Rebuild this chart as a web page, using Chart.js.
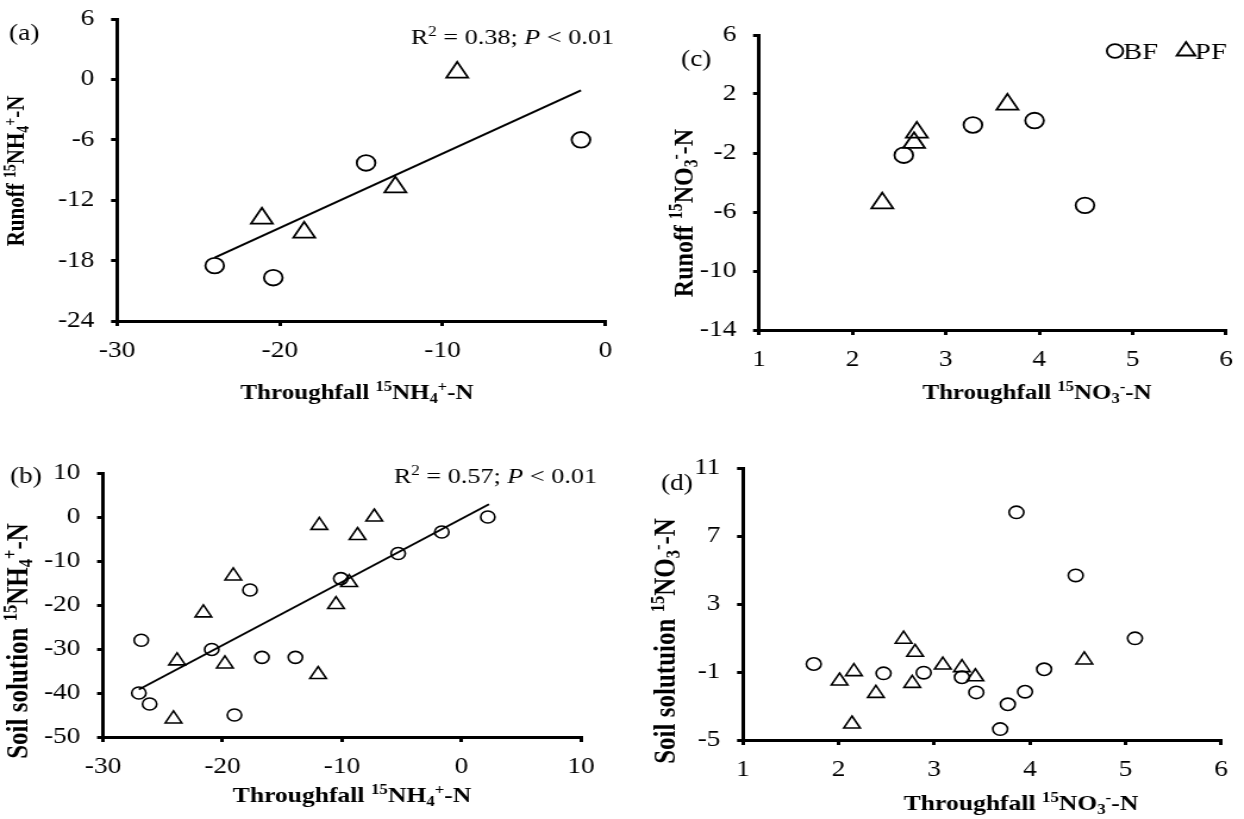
<!DOCTYPE html>
<html><head><meta charset="utf-8">
<script src="https://cdn.jsdelivr.net/npm/chart.js@4.4.1/dist/chart.umd.min.js"></script>
<style>
html,body{margin:0;padding:0;background:#fff;}
#wrap{position:relative;width:1244px;height:819px;overflow:hidden;background:#fff;}
canvas{position:absolute;}
</style></head><body>
<div id="wrap">
<canvas id="pa" style="left:0px;top:0px;"></canvas>
<canvas id="pc" style="left:620px;top:0px;"></canvas>
<canvas id="pb" style="left:0px;top:410px;"></canvas>
<canvas id="pd" style="left:620px;top:410px;"></canvas>
</div>
<script>
// ---------------- DATA ----------------
// Panel (a): Throughfall 15NH4+-N vs Runoff 15NH4+-N
const aBF_x = [-24.0, -20.4, -14.7, -1.5];
const aBF_y = [-18.5, -19.7, -8.3, -6.0];
const aPF_x = [-21.1, -18.5, -12.9, -9.1];
const aPF_y = [-13.8, -15.2, -10.7, 0.7];
const aFit_x = [-24.0, -1.5];
const aFit_y = [-17.7, -1.1];
const aXTicks = [-30, -20, -10, 0];
const aYTicks = [-24, -18, -12, -6, 0, 6];

// Panel (c): Throughfall 15NO3--N vs Runoff 15NO3--N
const cBF_x = [2.55, 3.29, 3.95, 4.49];
const cBF_y = [-2.15, -0.1, 0.2, -5.55];
const cPF_x = [2.32, 2.66, 2.69, 3.66];
const cPF_y = [-5.4, -1.3, -0.6, 1.3];
const cXTicks = [1, 2, 3, 4, 5, 6];
const cYTicks = [-14, -10, -6, -2, 2, 6];

// Panel (b): Throughfall 15NH4+-N vs Soil solution 15NH4+-N
const bBF_x = [2.2, -1.65, -5.3, -10.1, -17.7, -26.8, -20.9, -16.7, -13.9, -27.0, -26.1, -19.0];
const bBF_y = [0, -3.4, -8.3, -14.0, -16.6, -28.0, -30.1, -31.9, -31.9, -40.0, -42.5, -45.0];
const bPF_x = [-7.3, -11.9, -8.7, -19.1, -9.4, -10.5, -21.6, -23.8, -19.8, -12.0, -24.1];
const bPF_y = [0, -1.9, -4.2, -13.4, -14.9, -19.9, -21.8, -32.7, -33.4, -35.8, -45.9];
const bFit_x = [-27.0, 2.3];
const bFit_y = [-39.2, 2.9];
const bXTicks = [-30, -20, -10, 0, 10];
const bYTicks = [-50, -40, -30, -20, -10, 0, 10];

// Panel (d): Throughfall 15NO3--N vs Soil solution 15NO3--N
const dBF_x = [1.74, 2.47, 2.89, 3.29, 3.44, 3.69, 3.77, 3.86, 3.95, 4.15, 4.48, 5.10];
const dBF_y = [-0.53, -1.08, -1.04, -1.31, -2.2, -4.36, -2.9, 8.39, -2.16, -0.84, 4.68, 0.98];
const dPF_x = [2.01, 2.16, 2.14, 2.39, 2.68, 2.80, 2.77, 3.09, 3.29, 3.43, 4.57];
const dPF_y = [-1.53, -0.98, -4.06, -2.26, 0.93, 0.16, -1.67, -0.59, -0.74, -1.28, -0.29];
const dXTicks = [1, 2, 3, 4, 5, 6];
const dYTicks = [-5, -1, 3, 7, 11];

const seriesNames = ['BF', 'PF'];

// ---------------- STYLE / HELPERS ----------------
const FONT = '"Liberation Serif","Times New Roman",serif';
const S = 1.19; // horizontal stretch of the original figure
Chart.defaults.font.family = FONT;
Chart.defaults.color = '#000';

function pts(xs, ys) { return xs.map((x, i) => ({x: x, y: ys[i]})); }

function scatterDS(label, xs, ys, style, r, bw) {
  return {
    label: label, type: 'scatter', data: pts(xs, ys),
    pointStyle: style, pointRadius: r, pointHoverRadius: r,
    pointBorderColor: '#000', pointBackgroundColor: 'rgba(255,255,255,0)',
    pointBorderWidth: bw, showLine: false, order: 1
  };
}
function fitDS(xs, ys) {
  return {
    label: 'fit', type: 'line', data: pts(xs, ys),
    borderColor: '#000', borderWidth: 2, pointRadius: 0, pointHoverRadius: 0,
    fill: false, tension: 0, order: 2
  };
}
function axis(isX, min, max, tickVals, size) {
  return {
    type: 'linear', position: isX ? 'bottom' : 'left', min: min, max: max,
    afterBuildTicks: s => { s.ticks = tickVals.map(v => ({value: v})); },
    afterFit: s => {
      if (isX) s.height = size; else s.width = size;
      s.paddingLeft = 0; s.paddingRight = 0; s.paddingTop = 0; s.paddingBottom = 0;
    },
    grid: {display: true, drawOnChartArea: false, drawTicks: true, tickLength: 5,
           tickWidth: 3, tickColor: '#000', color: '#000', lineWidth: 3},
    border: {display: true, color: '#000', width: 3},
    ticks: {font: {size: 23}, color: '#000', padding: isX ? 11 : 14,
            maxRotation: 0, autoSkip: false, callback: v => String(v)}
  };
}

function segFont(seg, it) {
  const small = seg[1] === 'sup' || seg[1] === 'sub';
  const sz = it.size * (small ? 0.66 : 1);
  return (seg[1] === 'i' ? 'italic ' : '') + (it.bold ? 'bold ' : '') + sz.toFixed(1) + 'px ' + FONT;
}
function drawRich(ctx, it, sx) {
  ctx.save();
  ctx.translate(it.x / sx, it.y);
  if (it.rotate) ctx.rotate(it.rotate);
  let w = 0; const ws = [];
  it.segs.forEach(seg => { ctx.font = segFont(seg, it); const m = ctx.measureText(seg[0]).width; ws.push(m); w += m; });
  let x0 = it.align === 'center' ? -w / 2 : it.align === 'right' ? -w : 0;
  ctx.fillStyle = '#000'; ctx.textBaseline = 'alphabetic'; ctx.textAlign = 'left';
  const base = it.size * 0.33;
  it.segs.forEach((seg, i) => {
    ctx.font = segFont(seg, it);
    const dy = seg[1] === 'sup' ? -it.size * 0.36 : seg[1] === 'sub' ? it.size * 0.17 : 0;
    ctx.fillText(seg[0], x0, base + dy);
    x0 += ws[i];
  });
  ctx.restore();
}
function drawMarker(ctx, style, r, bw, x, y) {
  ctx.save();
  ctx.strokeStyle = '#000'; ctx.fillStyle = 'rgba(255,255,255,0)'; ctx.lineWidth = bw;
  if (Chart.helpers && Chart.helpers.drawPoint) {
    Chart.helpers.drawPoint(ctx, {pointStyle: style, radius: r, borderWidth: bw, rotation: 0}, x, y);
  } else {
    ctx.beginPath();
    if (style === 'circle') ctx.arc(x, y, r, 0, Math.PI * 2);
    else { ctx.moveTo(x, y - r); ctx.lineTo(x + r * 0.866, y + r / 2); ctx.lineTo(x - r * 0.866, y + r / 2); ctx.closePath(); }
    ctx.stroke();
  }
  ctx.restore();
}

const textPlugin = {
  id: 'panelText',
  afterDraw(chart, args, o) {
    const ctx = chart.ctx, sx = o.sx || 1;
    (o.items || []).forEach(it => drawRich(ctx, it, sx));
    if (o.legend) {
      const L = o.legend;
      chart.data.datasets.filter(d => d.type === 'scatter').forEach((d, i) => {
        drawMarker(ctx, d.pointStyle, L.r[i], 1.8, L.x[i] / sx, L.y);
        drawRich(ctx, {segs: [[d.label, '']], x: L.x[i] + L.gap[i], y: L.y, size: L.size, align: 'left'}, sx);
      });
    }
  }
};

function xTitle(nSegs, x, y, size) { return {segs: nSegs, x: x, y: y, size: size || 21, bold: true, align: 'center'}; }
function yTitle(nSegs, x, y, size) { return {segs: nSegs, x: x, y: y, size: size || 21, bold: true, align: 'center', rotate: -Math.PI / 2}; }
function label(t, x, y) { return {segs: [[t, '']], x: x, y: y, size: 23, align: 'left'}; }
function rsq(val, x, y) {
  return {segs: [['R', ''], ['2', 'sup'], [' = ' + val + '; ', ''], ['P', 'i'], [' < 0.01', '']], x: x, y: y, size: 22, align: 'right'};
}
const NH4 = [['15', 'sup'], ['NH', ''], ['4', 'sub'], ['+', 'sup'], ['-N', '']];
const NO3 = [['15', 'sup'], ['NO', ''], ['3', 'sub'], ['-', 'sup'], ['-N', '']];

// area: chart area in page-local px of the panel box {left,right,top,bottom}
function makePanel(id, cssW, cssH, cfg) {
  const cv = document.getElementById(id);
  const W = Math.round(cssW / S);
  cv.width = W; cv.height = cssH;
  cv.style.width = cssW + 'px'; cv.style.height = cssH + 'px';
  const sx = cssW / W;
  const A = cfg.area;
  cfg.text.sx = sx;
  return new Chart(cv, {
    type: 'scatter',
    data: {datasets: cfg.datasets},
    options: {
      responsive: false, animation: false, devicePixelRatio: 1,
      layout: {padding: {left: 0, right: W - A.right / sx, top: A.top, bottom: 0}},
      scales: {
        x: axis(true, cfg.x[0], cfg.x[1], cfg.x[2], cssH - A.bottom),
        y: axis(false, cfg.y[0], cfg.y[1], cfg.y[2], A.left / sx)
      },
      plugins: {legend: {display: false}, tooltip: {enabled: false}, panelText: cfg.text}
    },
    plugins: [textPlugin]
  });
}

// Panel (a)
makePanel('pa', 620, 410, {
  datasets: [
    scatterDS(seriesNames[0], aBF_x, aBF_y, 'circle', 7.8, 1.8),
    scatterDS(seriesNames[1], aPF_x, aPF_y, 'triangle', 10.5, 1.8),
    fitDS(aFit_x, aFit_y)
  ],
  area: {left: 117, right: 615, top: 19, bottom: 321},
  x: [-30, 0, aXTicks], y: [-24, 6, aYTicks],
  text: {items: [
    label('(a)', 9, 32),
    rsq('0.38', 614, 37),
    xTitle([['Throughfall ', '']].concat(NH4), 357, 392),
    yTitle([['Runoff ', '']].concat(NH4), 16, 171)
  ]}
});

// Panel (c)
makePanel('pc', 624, 410, {
  datasets: [
    scatterDS(seriesNames[0], cBF_x, cBF_y, 'circle', 7.8, 1.8),
    scatterDS(seriesNames[1], cPF_x, cPF_y, 'triangle', 10.5, 1.8)
  ],
  area: {left: 139, right: 606, top: 35, bottom: 330},
  x: [1, 6, cXTicks], y: [-14, 6, cYTicks],
  text: {items: [
    label('(c)', 61, 58),
    xTitle([['Throughfall ', '']].concat(NO3), 417, 392),
    yTitle([['Runoff ', '']].concat(NO3), 63, 213, 24)
  ], legend: {x: [495, 566], y: 51, r: [6.8, 9], gap: [8, 9], size: 24}}
});

// Panel (b)
makePanel('pb', 620, 409, {
  datasets: [
    scatterDS(seriesNames[0], bBF_x, bBF_y, 'circle', 6, 1.6),
    scatterDS(seriesNames[1], bPF_x, bPF_y, 'triangle', 8, 1.6),
    fitDS(bFit_x, bFit_y)
  ],
  area: {left: 103, right: 581, top: 63, bottom: 327},
  x: [-30, 10, bXTicks], y: [-50, 10, bYTicks],
  text: {items: [
    label('(b)', 10, 65),
    rsq('0.57', 597, 66),
    xTitle([['Throughfall ', '']].concat(NH4), 352, 385, 21.5),
    yTitle([['Soil solution ', '']].concat(NH4), 17, 231, 25)
  ]}
});

// Panel (d)
makePanel('pd', 624, 409, {
  datasets: [
    scatterDS(seriesNames[0], dBF_x, dBF_y, 'circle', 6.2, 1.6),
    scatterDS(seriesNames[1], dPF_x, dPF_y, 'triangle', 8, 1.6)
  ],
  area: {left: 123, right: 601, top: 58, bottom: 330},
  x: [1, 6, dXTicks], y: [-5, 11, dYTicks],
  text: {items: [
    label('(d)', 41, 72),
    xTitle([['Throughfall ', '']].concat(NO3), 401, 393, 21.5),
    yTitle([['Soil solutuion ', '']].concat(NO3), 45, 231, 25)
  ]}
});
</script>
</body></html>
